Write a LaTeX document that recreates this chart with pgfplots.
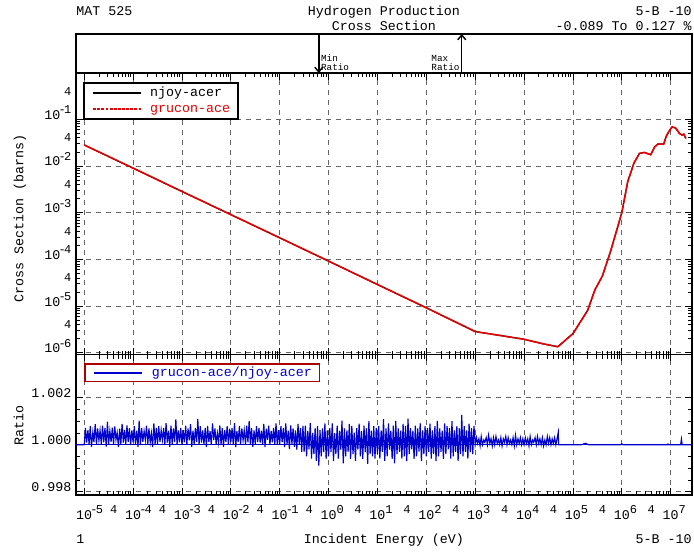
\documentclass[border=0pt]{standalone}
\usepackage{fontspec}
\setmainfont{Liberation Mono}
\usepackage{pgfplots}
\pgfplotsset{compat=1.18}
\usepackage{pgfplotstable}
\usetikzlibrary{arrows.meta}
\definecolor{cred}{RGB}{232,0,0}
\definecolor{cblue}{RGB}{0,0,205}
\definecolor{cdred}{RGB}{170,0,0}
\newcommand{\xn}[1]{10\rlap{\raisebox{0.8ex}{\fontsize{9}{9}\selectfont\kern-0.15em-\kern-0.15em#1}}}
\newcommand{\xp}[1]{10\rlap{\raisebox{0.8ex}{\fontsize{9}{9}\selectfont #1}}}
\newcommand{\yn}[1]{10\raisebox{0.8ex}{\fontsize{9}{9}\selectfont\kern-0.15em-\kern-0.15em#1}}

% Hydrogen production cross section (E in eV, sigma in barns)
\pgfplotstableread{
E sig
1e-5 2.82e-2
1e-4 9.0e-3
1e-3 2.85e-3
1e-2 9.1e-4
1e-1 2.9e-4
1 9.2e-5
10 2.9e-5
100 9.2e-6
1e3 2.85e-6
1e4 1.95e-6
2.5e4 1.55e-6
4.9e4 1.35e-6
1.0e5 2.57e-6
2.0e5 8.1e-6
2.8e5 2.2e-5
4.0e5 4.4e-5
5.9e5 1.5e-4
7.8e5 4.1e-4
1.0e6 1.0e-3
1.32e6 4.6e-3
1.78e6 1.17e-2
2.3e6 1.86e-2
2.9e6 1.95e-2
3.9e6 1.74e-2
4.7e6 2.57e-2
5.5e6 2.95e-2
7.2e6 2.95e-2
8.1e6 4.3e-2
9.1e6 5.4e-2
1.07e7 6.9e-2
1.26e7 6.5e-2
1.51e7 5.0e-2
1.70e7 4.6e-2
1.86e7 4.8e-2
2.04e7 3.9e-2
}\xstab

% Ratio grucon-ace / njoy-acer
\pgfplotstableread{
E r
6.79e-6 1.00000
1.00e-5 1.00000
1.06e-5 1.00071
1.12e-5 1.00009
1.19e-5 1.00062
1.26e-5 1.00001
1.33e-5 1.00079
1.41e-5 0.99991
1.50e-5 1.00052
1.58e-5 1.00011
1.68e-5 1.00088
1.78e-5 1.00000
1.88e-5 1.00069
2.00e-5 1.00018
2.11e-5 1.00061
2.24e-5 1.00002
2.37e-5 1.00081
2.51e-5 1.00010
2.66e-5 1.00072
2.82e-5 0.99992
2.99e-5 1.00098
3.16e-5 1.00001
3.35e-5 1.00059
3.55e-5 1.00012
3.76e-5 1.00073
3.98e-5 1.00000
4.22e-5 1.00078
4.47e-5 1.00021
4.73e-5 1.00051
5.01e-5 0.99990
5.31e-5 1.00068
5.62e-5 1.00003
5.96e-5 1.00089
6.31e-5 1.00009
6.68e-5 1.00063
7.08e-5 1.00001
7.50e-5 1.00082
7.94e-5 1.00011
8.41e-5 1.00070
8.91e-5 1.00000
9.44e-5 1.00061
1.00e-4 1.00010
1.06e-4 1.00079
1.12e-4 1.00001
1.19e-4 1.00060
1.26e-4 0.99991
1.33e-4 1.00102
1.41e-4 1.00000
1.50e-4 1.00071
1.58e-4 1.00012
1.68e-4 1.00058
1.78e-4 1.00019
1.88e-4 1.00081
2.00e-4 1.00002
2.11e-4 1.00069
2.24e-4 1.00010
2.37e-4 1.00049
2.51e-4 0.99990
2.66e-4 1.00091
2.82e-4 1.00001
2.99e-4 1.00072
3.16e-4 1.00000
3.35e-4 1.00079
3.55e-4 1.00011
3.76e-4 1.00062
3.98e-4 1.00020
4.22e-4 1.00071
4.47e-4 1.00001
4.73e-4 1.00092
5.01e-4 1.00009
5.31e-4 1.00060
5.62e-4 0.99991
5.96e-4 1.00081
6.31e-4 1.00002
6.68e-4 1.00069
7.08e-4 1.00011
7.50e-4 1.00108
7.94e-4 1.00000
8.41e-4 1.00061
8.91e-4 1.00010
9.44e-4 1.00072
1.00e-3 1.00001
1.06e-3 1.00062
1.12e-3 1.00010
1.19e-3 1.00081
1.26e-3 1.00000
1.33e-3 1.00069
1.41e-3 1.00019
1.50e-3 1.00088
1.58e-3 0.99991
1.68e-3 1.00060
1.78e-3 1.00002
1.88e-3 1.00071
2.00e-3 1.00011
2.11e-3 1.00109
2.24e-3 1.00000
2.37e-3 1.00079
2.51e-3 1.00009
2.66e-3 1.00061
2.82e-3 1.00001
2.99e-3 1.00072
3.16e-3 0.99990
3.35e-3 1.00080
3.55e-3 1.00011
3.76e-3 1.00058
3.98e-3 1.00000
4.22e-3 1.00091
4.47e-3 1.00020
4.73e-3 1.00069
5.01e-3 1.00002
5.31e-3 1.00049
5.62e-3 1.00010
5.96e-3 1.00082
6.31e-3 1.00000
6.68e-3 1.00071
7.08e-3 0.99991
7.50e-3 1.00062
7.94e-3 1.00011
8.41e-3 1.00079
8.91e-3 1.00001
9.44e-3 1.00068
1.00e-2 1.00010
1.06e-2 1.00071
1.12e-2 1.00000
1.19e-2 1.00092
1.26e-2 0.99990
1.33e-2 1.00059
1.41e-2 1.00011
1.50e-2 1.00080
1.58e-2 1.00001
1.68e-2 1.00069
1.78e-2 1.00019
1.88e-2 1.00062
2.00e-2 1.00000
2.11e-2 1.00081
2.24e-2 1.00010
2.37e-2 1.00101
2.51e-2 1.00002
2.66e-2 1.00070
2.82e-2 0.99991
2.99e-2 1.00061
3.16e-2 1.00000
3.35e-2 1.00079
3.55e-2 1.00011
3.76e-2 1.00072
3.98e-2 1.00009
4.22e-2 1.00060
4.47e-2 1.00001
4.73e-2 1.00089
5.01e-2 0.99990
5.31e-2 1.00068
5.62e-2 1.00021
5.96e-2 1.00081
6.31e-2 1.00000
6.68e-2 1.00059
7.08e-2 1.00010
7.50e-2 1.00072
7.94e-2 1.00001
8.41e-2 1.00091
8.91e-2 1.00000
9.44e-2 1.00062
1.00e-1 1.00001
1.06e-1 1.00079
1.12e-1 1.00010
1.19e-1 1.00071
1.26e-1 0.99990
1.33e-1 1.00091
1.41e-1 1.00000
1.50e-1 1.00060
1.58e-1 0.99981
1.68e-1 1.00082
1.78e-1 1.00002
1.88e-1 1.00069
2.00e-1 0.99991
2.11e-1 1.00061
2.24e-1 0.99979
2.37e-1 1.00089
2.51e-1 1.00000
2.66e-1 1.00071
2.82e-1 0.99970
2.99e-1 1.00080
3.16e-1 0.99970
3.35e-1 1.00081
3.55e-1 0.99951
3.76e-1 1.00059
3.98e-1 0.99980
4.22e-1 1.00092
4.47e-1 0.99941
4.73e-1 1.00050
5.01e-1 0.99960
5.31e-1 1.00071
5.62e-1 0.99931
5.96e-1 1.00079
6.31e-1 0.99911
6.68e-1 1.00062
7.08e-1 0.99950
7.50e-1 1.00069
7.94e-1 0.99969
8.41e-1 1.00091
8.91e-1 0.99940
9.44e-1 1.00061
1.00 0.99951
1.06 1.00070
1.12 0.99969
1.19 1.00091
1.26 0.99930
1.33 1.00049
1.41 0.99960
1.50 1.00081
1.58 0.99941
1.68 1.00060
1.78 0.99979
1.88 1.00102
2.00 0.99921
2.11 1.00069
2.24 0.99950
2.37 1.00061
2.51 0.99970
2.66 1.00089
2.82 0.99940
2.99 1.00080
3.16 0.99960
3.35 1.00051
3.55 0.99931
3.76 1.00071
3.98 0.99979
4.22 1.00090
4.47 0.99951
4.73 1.00059
5.01 0.99940
5.31 1.00081
5.62 0.99969
5.96 1.00070
6.31 0.99919
6.68 1.00101
7.08 0.99960
7.50 1.00060
7.94 0.99951
8.41 1.00079
8.91 0.99941
9.44 1.00071
10.0 0.99960
10.6 1.00079
11.2 0.99941
11.9 1.00061
12.6 0.99970
13.3 1.00109
14.1 0.99931
15.0 1.00070
15.8 0.99950
16.8 1.00091
17.8 0.99979
18.8 1.00060
20.0 0.99940
21.1 1.00081
22.4 0.99921
23.7 1.00101
25.1 0.99960
26.6 1.00069
28.2 0.99970
29.9 1.00060
31.6 0.99941
33.5 1.00089
35.5 0.99951
37.6 1.00080
39.8 0.99930
42.2 1.00111
44.7 0.99960
47.3 1.00071
50.1 0.99980
53.1 1.00060
56.2 0.99940
59.6 1.00081
63.1 0.99950
66.8 1.00069
70.8 0.99971
75.0 1.00091
79.4 0.99930
84.1 1.00061
89.1 0.99960
94.4 1.00079
100 0.99950
106 1.00071
112 0.99970
119 1.00090
126 0.99941
133 1.00061
141 0.99960
150 1.00079
158 0.99930
168 1.00101
178 0.99951
188 1.00069
200 0.99970
211 1.00060
224 0.99940
237 1.00091
251 0.99960
266 1.00080
282 0.99980
299 1.00071
316 0.99941
335 1.00100
355 0.99950
376 1.00061
398 0.99970
422 1.00079
447 0.99930
473 1.00070
501 0.99960
531 1.00127
562 0.99950
596 1.00079
631 0.99970
668 1.00061
708 0.99941
750 1.00090
794 0.99969
841 1.00071
891 0.99960
944 1.00080
1.00e3 1.00000
1.06e3 1.00030
1.12e3 1.00005
1.19e3 1.00025
1.26e3 0.99995
1.33e3 1.00035
1.41e3 1.00000
1.50e3 1.00020
1.58e3 1.00010
1.68e3 1.00030
1.78e3 1.00000
1.88e3 1.00040
2.00e3 1.00005
2.11e3 1.00025
2.24e3 0.99995
2.37e3 1.00030
2.51e3 1.00000
2.66e3 1.00035
2.82e3 1.00005
2.99e3 1.00020
3.16e3 1.00000
3.35e3 1.00030
3.55e3 0.99995
3.76e3 1.00025
3.98e3 1.00010
4.22e3 1.00035
4.47e3 1.00000
4.73e3 1.00030
5.01e3 1.00005
5.31e3 1.00020
5.62e3 1.00000
5.96e3 1.00030
6.31e3 0.99995
6.68e3 1.00040
7.08e3 1.00000
7.50e3 1.00025
7.94e3 1.00005
8.41e3 1.00030
8.91e3 1.00000
9.44e3 1.00025
1.00e4 1.00000
1.06e4 1.00030
1.12e4 1.00005
1.19e4 1.00025
1.26e4 0.99995
1.33e4 1.00035
1.41e4 1.00000
1.50e4 1.00020
1.58e4 1.00010
1.68e4 1.00030
1.78e4 1.00000
1.88e4 1.00035
2.00e4 1.00005
2.11e4 1.00025
2.24e4 1.00000
2.37e4 1.00030
2.51e4 0.99995
2.66e4 1.00020
2.82e4 1.00000
2.99e4 1.00035
3.16e4 1.00005
3.35e4 1.00030
3.55e4 1.00000
3.76e4 1.00025
3.98e4 1.00005
4.22e4 1.00030
4.47e4 1.00000
4.73e4 1.00025
5.01e4 1.00053
5.10e4 1.00000
1.5e5 1.00000
1.8e5 1.00006
2.1e5 1.00000
9.5e5 1.00000
1.0e6 1.00004
1.05e6 1.00000
8.5e6 1.00000
8.8e6 1.00003
9.1e6 1.00000
1.6e7 1.00000
1.66e7 1.00024
1.72e7 1.00000
2.73e7 1.00000
}\ratiotab

\pgfplotsset{
  every axis/.append style={
    scale only axis, width=462pt,
    axis line style={line width=1.2pt},
    tick style={black, line width=0.6pt},
    major tick length=5pt, minor tick length=3pt,
    tick align=inside,
    major grid style={black!60, dash pattern=on 3.5pt off 4pt, line width=0.6pt},
    tick label style={font=\fontsize{10}{10}\selectfont},
    legend cell align=left,
  },
}

\begin{document}
\begin{tikzpicture}[x=1pt,y=1pt]
\useasboundingbox (0,0) rectangle (520.5,413.25);

% header / footer text
\node[anchor=base west, inner sep=0pt, font=\fontsize{10}{10}\selectfont] at (57,401.7) {MAT 525};
\node[anchor=base, inner sep=0pt, font=\fontsize{10}{10}\selectfont] at (288,401.7) {Hydrogen Production};
\node[anchor=base, inner sep=0pt, font=\fontsize{10}{10}\selectfont] at (288,390.4) {Cross Section};
\node[anchor=base east, inner sep=0pt, font=\fontsize{10}{10}\selectfont] at (519,401.7) {5-B -10};
\node[anchor=base east, inner sep=0pt, font=\fontsize{10}{10}\selectfont] at (519,390.4) {-0.089 To 0.127 \%};
\node[anchor=base west, inner sep=0pt, font=\fontsize{10}{10}\selectfont] at (57,5.8) {1};
\node[anchor=base, inner sep=0pt, font=\fontsize{10}{10}\selectfont] at (288,5.8) {Incident Energy (eV)};
\node[anchor=base east, inner sep=0pt, font=\fontsize{10}{10}\selectfont] at (519,5.8) {5-B -10};
\node[anchor=base, rotate=90, inner sep=0pt, font=\fontsize{10}{10}\selectfont] at (17.6,249.5) {Cross Section (barns)};
\node[anchor=base, rotate=90, inner sep=0pt, font=\fontsize{10}{10}\selectfont] at (17.6,94.5) {Ratio};

% top panel: min / max ratio markers
\begin{axis}[at={(57pt,358.5pt)}, anchor=south west, height=29.25pt,
  xmode=log, xmin=6.79e-6, xmax=2.73e7,
  ymin=0, ymax=1, xtick=\empty, ytick=\empty]
  \draw[line width=1.1pt, -{Straight Barb[length=3.5pt,width=6pt]}] (axis cs:0.631,1) -- (axis cs:0.631,0);
  \node[anchor=south west, align=left, inner sep=1.5pt, font=\fontsize{7}{7}\selectfont] at (axis cs:0.631,0) {Min\\Ratio};
  \draw[line width=1.1pt, -{Straight Barb[length=3.5pt,width=6pt]}] (axis cs:531,0) -- (axis cs:531,1);
  \node[anchor=south east, align=left, inner sep=1.5pt, font=\fontsize{7}{7}\selectfont] at (axis cs:531,0) {Max\\Ratio};
\end{axis}

% main cross-section panel
\begin{axis}[at={(57pt,147.375pt)}, anchor=south west, height=211.125pt,
  xmode=log, xmin=6.79e-6, xmax=2.73e7,
  xtick={1e-5,1e-4,1e-3,1e-2,1e-1,1,10,100,1e3,1e4,1e5,1e6,1e7},
  ymode=log, ymin=9.2e-7, ymax=0.98,
  grid=major, xticklabels={},
  ytick={1e-6,1e-5,1e-4,1e-3,1e-2,1e-1},
  yticklabels={\yn{6},\yn{5},\yn{4},\yn{3},\yn{2},\yn{1}},
  yticklabel style={anchor=base east},
  extra y ticks={4e-6,4e-5,4e-4,4e-3,4e-2,4e-1},
  extra y tick labels={4,4,4,4,4,4},
  extra y tick style={grid=none, major tick length=0pt, yticklabel style={anchor=east, font=\fontsize{9}{9}\selectfont}},
  legend style={at={(axis description cs:0.0119,0.967)}, anchor=north west,
    draw=black, line width=1.3pt, fill=white, inner xsep=6pt, inner ysep=3pt,
    font=\fontsize{10}{10}\selectfont, column sep=6pt, row sep=3pt,
    nodes={inner sep=0pt, text height=7pt, text depth=2pt}},
]
  \addplot[black, line width=0.9pt,
    legend image code/.code={\draw[black, line width=1.4pt] (0pt,0pt) -- (36pt,0pt);}]
    table[x=E, y=sig] {\xstab};
  \addlegendentry{njoy-acer}
  \addplot[cred, line width=1.2pt, dash pattern=on 9pt off 0.6pt,
    legend image code/.code={\draw[cred, line width=1.2pt, dash pattern=on 2.2pt off 0.9pt] (0pt,0pt) -- (36pt,0pt);}]
    table[x=E, y=sig] {\xstab};
  \addlegendentry{\textcolor{cred}{grucon-ace}}
\end{axis}

% ratio panel
\begin{axis}[at={(57pt,42pt)}, anchor=south west, height=105.375pt,
  xmode=log, xmin=6.79e-6, xmax=2.73e7,
  xtick={1e-5,1e-4,1e-3,1e-2,1e-1,1,10,100,1e3,1e4,1e5,1e6,1e7},
  ymin=0.99786, ymax=1.00384,
  grid=major,
  ytick={0.998,1.000,1.002}, yticklabels={0.998,1.000,1.002},
  minor y tick num=3,
  yticklabel style={anchor=base east},
  xticklabels={\xn{5},\xn{4},\xn{3},\xn{2},\xn{1},\xp{0},\xp{1},\xp{2},\xp{3},\xp{4},\xp{5},\xp{6},\xp{7}},
  xticklabel style={yshift=-4.5pt},
  extra x ticks={4e-5,4e-4,4e-3,4e-2,4e-1,4,40,400,4e3,4e4,4e5,4e6},
  extra x tick labels={4,4,4,4,4,4,4,4,4,4,4,4},
  extra x tick style={grid=none, major tick length=0pt, xticklabel style={font=\fontsize{9}{9}\selectfont}},
  legend style={at={(axis description cs:0.0135,0.937)}, anchor=north west,
    draw=cdred, line width=1.3pt, fill=white, inner xsep=5.8pt, inner ysep=2pt,
    font=\fontsize{10}{10}\selectfont, column sep=6.75pt,
    nodes={inner sep=0pt, text height=7pt, text depth=2pt}},
]
  \addplot[cblue, line width=0.9pt, forget plot] coordinates {(6.79e-6,1.0) (2.73e7,1.0)};
  \addplot[cblue, line width=0.85pt,
    legend image code/.code={\draw[cblue, line width=1.4pt] (0pt,0pt) -- (36pt,0pt);}]
    table[x=E, y=r] {\ratiotab};
  \addlegendentry{\textcolor{cblue}{grucon-ace/njoy-acer}}
\end{axis}
\end{tikzpicture}
\end{document}
